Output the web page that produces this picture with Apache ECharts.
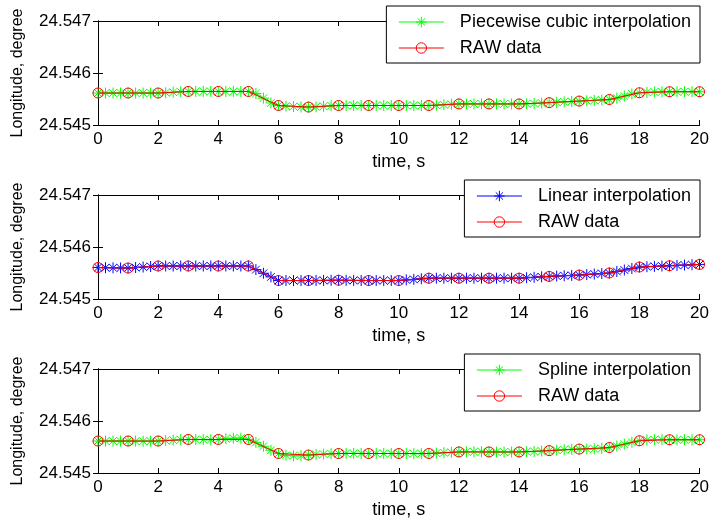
<!DOCTYPE html>
<html>
<head>
<meta charset="utf-8">
<script src="https://cdn.jsdelivr.net/npm/echarts@6/dist/echarts.min.js"></script>
<style>
  html, body { margin: 0; padding: 0; background: #fff; }
  #main { width: 712px; height: 526px; }
</style>
</head>
<body>
<div id="main"></div>
<script>
// raw samples, 1 s step
var rawTime = [0, 1, 2, 3, 4, 5, 6, 7, 8, 9, 10, 11, 12, 13, 14, 15, 16, 17, 18, 19, 20];
var rawLon = [24.545615, 24.545615, 24.545615, 24.545645, 24.545645, 24.545645, 24.545375, 24.545345, 24.545375, 24.545375,
  24.545375, 24.545375, 24.545405, 24.545405, 24.545405, 24.54543, 24.54546, 24.54549, 24.54562, 24.54564, 24.54564];
var rawLon2 = [24.545605, 24.545595, 24.545635, 24.545635, 24.545635, 24.545635, 24.545355, 24.545355, 24.54536, 24.545355,
  24.545355, 24.5454, 24.5454, 24.5454, 24.5454, 24.545435, 24.54546, 24.5455, 24.545615, 24.54564, 24.545665];

// interpolated samples, 0.25 s step
var interpTime = [0, 0.25, 0.5, 0.75, 1, 1.25, 1.5, 1.75, 2, 2.25, 2.5, 2.75, 3, 3.25, 3.5, 3.75, 4, 4.25, 4.5, 4.75,
  5, 5.25, 5.5, 5.75, 6, 6.25, 6.5, 6.75, 7, 7.25, 7.5, 7.75, 8, 8.25, 8.5, 8.75, 9, 9.25, 9.5, 9.75,
  10, 10.25, 10.5, 10.75, 11, 11.25, 11.5, 11.75, 12, 12.25, 12.5, 12.75, 13, 13.25, 13.5, 13.75, 14, 14.25, 14.5, 14.75,
  15, 15.25, 15.5, 15.75, 16, 16.25, 16.5, 16.75, 17, 17.25, 17.5, 17.75, 18, 18.25, 18.5, 18.75, 19, 19.25, 19.5, 19.75, 20];

var pchipLon = [
  24.545615, 24.545615, 24.545615, 24.545615,
  24.545615, 24.545615, 24.545615, 24.545615,
  24.545615, 24.5456197, 24.54563, 24.5456403,
  24.545645, 24.545645, 24.545645, 24.545645,
  24.545645, 24.545645, 24.545645, 24.545645,
  24.545645, 24.5456053, 24.5455168, 24.5454248,
  24.545375, 24.5453627, 24.5453533, 24.5453472,
  24.545345, 24.5453497, 24.54536, 24.5453703,
  24.545375, 24.545375, 24.545375, 24.545375,
  24.545375, 24.545375, 24.545375, 24.545375,
  24.545375, 24.545375, 24.545375, 24.545375,
  24.545375, 24.5453797, 24.54539, 24.5454003,
  24.545405, 24.545405, 24.545405, 24.545405,
  24.545405, 24.545405, 24.545405, 24.545405,
  24.545405, 24.5454076, 24.5454141, 24.5454223,
  24.54543, 24.5454371, 24.5454447, 24.5454524,
  24.54546, 24.5454666, 24.5454727, 24.5454799,
  24.54549, 24.5455155, 24.5455568, 24.5455971,
  24.54562, 24.545628, 24.5456343, 24.5456385,
  24.54564, 24.54564, 24.54564, 24.54564,
  24.54564];

var linearLon = [
  24.545605, 24.5456025, 24.5456, 24.5455975,
  24.545595, 24.545605, 24.545615, 24.545625,
  24.545635, 24.545635, 24.545635, 24.545635,
  24.545635, 24.545635, 24.545635, 24.545635,
  24.545635, 24.545635, 24.545635, 24.545635,
  24.545635, 24.545565, 24.545495, 24.545425,
  24.545355, 24.545355, 24.545355, 24.545355,
  24.545355, 24.5453563, 24.5453575, 24.5453588,
  24.54536, 24.5453588, 24.5453575, 24.5453563,
  24.545355, 24.545355, 24.545355, 24.545355,
  24.545355, 24.5453663, 24.5453775, 24.5453888,
  24.5454, 24.5454, 24.5454, 24.5454,
  24.5454, 24.5454, 24.5454, 24.5454,
  24.5454, 24.5454, 24.5454, 24.5454,
  24.5454, 24.5454088, 24.5454175, 24.5454263,
  24.545435, 24.5454413, 24.5454475, 24.5454538,
  24.54546, 24.54547, 24.54548, 24.54549,
  24.5455, 24.5455288, 24.5455575, 24.5455863,
  24.545615, 24.5456213, 24.5456275, 24.5456338,
  24.54564, 24.5456463, 24.5456525, 24.5456588,
  24.545665];

var splineLon = [
  24.545615, 24.545615, 24.5456148, 24.5456145,
  24.545615, 24.545613, 24.5456116, 24.5456117,
  24.545615, 24.5456226, 24.545632, 24.5456404,
  24.545645, 24.545644, 24.545641, 24.54564,
  24.545645, 24.545658, 24.54567, 24.54567,
  24.545645, 24.545589, 24.545514, 24.545437,
  24.545375, 24.5453407, 24.54533, 24.545334,
  24.545345, 24.5453556, 24.545364, 24.545371,
  24.545375, 24.5453768, 24.5453768, 24.5453759,
  24.545375, 24.545375, 24.545375, 24.545375,
  24.545375, 24.5453737, 24.5453723, 24.5453723,
  24.545375, 24.5453813, 24.54539, 24.5453984,
  24.545405, 24.545408, 24.5454085, 24.545407,
  24.545405, 24.5454033, 24.5454025, 24.545403,
  24.545405, 24.5454089, 24.5454145, 24.5454217,
  24.54543, 24.545439, 24.5454478, 24.5454552,
  24.54546, 24.545462, 24.5454648, 24.5454727,
  24.54549, 24.5455193, 24.545555, 24.5455913,
  24.54562, 24.5456363, 24.5456424, 24.5456423,
  24.54564, 24.5456384, 24.5456382, 24.5456389,
  24.54564];

var xTicks = { min: 0, max: 20, interval: 2 };
var yTicks = { min: 24.545, max: 24.547, interval: 0.001 };

var FONT = 'Liberation Sans, Arial, sans-serif';
var STAR = 'path://M0,5L10,5M5,0L5,10M1.5,1.5L8.5,8.5M8.5,1.5L1.5,8.5';
var gridTops = [21, 195, 369];

function pairs(xs, ys) {
  return xs.map(function (x, i) { return [x, ys[i]]; });
}

var chart = echarts.init(document.getElementById('main'));

var grids = [], xAxes = [], yAxes = [], legends = [], series = [];

var panels = [
  { name: 'Piecewise cubic interpolation', color: '#00ff00', interp: pchipLon, raw: rawLon },
  { name: 'Linear interpolation', color: '#0000ff', interp: linearLon, raw: rawLon2 },
  { name: 'Spline interpolation', color: '#00ff00', interp: splineLon, raw: rawLon }
];

panels.forEach(function (p, i) {
  grids.push({ left: 98, top: gridTops[i], width: 602, height: 104 });

  var lineBlack = { show: true, lineStyle: { color: '#000', width: 1 } };
  var tickIn = { show: true, inside: true, length: 5, lineStyle: { color: '#000' } };

  // bottom x axis
  xAxes.push({
    type: 'value', gridIndex: i, position: 'bottom',
    min: xTicks.min, max: xTicks.max, interval: xTicks.interval,
    axisLine: lineBlack, axisTick: tickIn, splitLine: { show: false },
    axisLabel: { color: '#000', fontSize: 17, fontFamily: FONT, margin: 6 },
    name: 'time, s', nameLocation: 'middle', nameGap: 28,
    nameTextStyle: { color: '#000', fontSize: 18, fontFamily: FONT }
  });
  // top x axis (box)
  xAxes.push({
    type: 'value', gridIndex: i, position: 'top',
    min: xTicks.min, max: xTicks.max, interval: xTicks.interval,
    axisLine: lineBlack, axisTick: tickIn, splitLine: { show: false },
    axisLabel: { show: false }
  });
  // left y axis
  yAxes.push({
    type: 'value', gridIndex: i, position: 'left',
    min: yTicks.min, max: yTicks.max, interval: yTicks.interval,
    axisLine: lineBlack, axisTick: tickIn, splitLine: { show: false },
    axisLabel: {
      color: '#000', fontSize: 17, fontFamily: FONT, margin: 7,
      formatter: function (v) { return v.toFixed(3); }
    },
    name: 'Longitude, degree', nameLocation: 'middle', nameGap: 72,
    nameTextStyle: { color: '#000', fontSize: 16, fontFamily: FONT }
  });
  // right y axis (box)
  yAxes.push({
    type: 'value', gridIndex: i, position: 'right',
    min: yTicks.min, max: yTicks.max, interval: yTicks.interval,
    axisLine: lineBlack, axisTick: tickIn, splitLine: { show: false },
    axisLabel: { show: false }
  });

  legends.push({
    data: [p.name, 'RAW data'],
    orient: 'vertical', right: 12, top: gridTops[i] - 15,
    backgroundColor: '#fff', borderColor: '#000', borderWidth: 1,
    padding: [7, 9, 6, 12],
    itemWidth: 45, itemHeight: 13, itemGap: 8,
    selectedMode: false,
    lineStyle: { width: 1 },
    itemStyle: { borderWidth: 1 },
    textStyle: { color: '#000', fontSize: 18, fontFamily: FONT, padding: [0, 0, 0, 11] }
  });

  series.push({
    type: 'line', name: p.name,
    xAxisIndex: 2 * i, yAxisIndex: 2 * i,
    data: pairs(interpTime, p.interp),
    symbol: STAR, symbolSize: 11,
    lineStyle: { color: p.color, width: 1 },
    itemStyle: { color: p.color, borderColor: p.color, borderWidth: 1 },
    emphasis: { disabled: true }, z: 2
  });
  series.push({
    type: 'line', name: 'RAW data',
    xAxisIndex: 2 * i, yAxisIndex: 2 * i,
    data: pairs(rawTime, p.raw),
    symbol: 'circle', symbolSize: 10,
    lineStyle: { color: '#ff0000', width: 1 },
    itemStyle: { color: 'rgba(255,255,255,0)', borderColor: '#ff0000', borderWidth: 1 },
    emphasis: { disabled: true }, z: 3
  });
});

chart.setOption({
  animation: false,
  backgroundColor: '#fff',
  grid: grids,
  xAxis: xAxes,
  yAxis: yAxes,
  legend: legends,
  series: series
});
</script>
</body>
</html>
